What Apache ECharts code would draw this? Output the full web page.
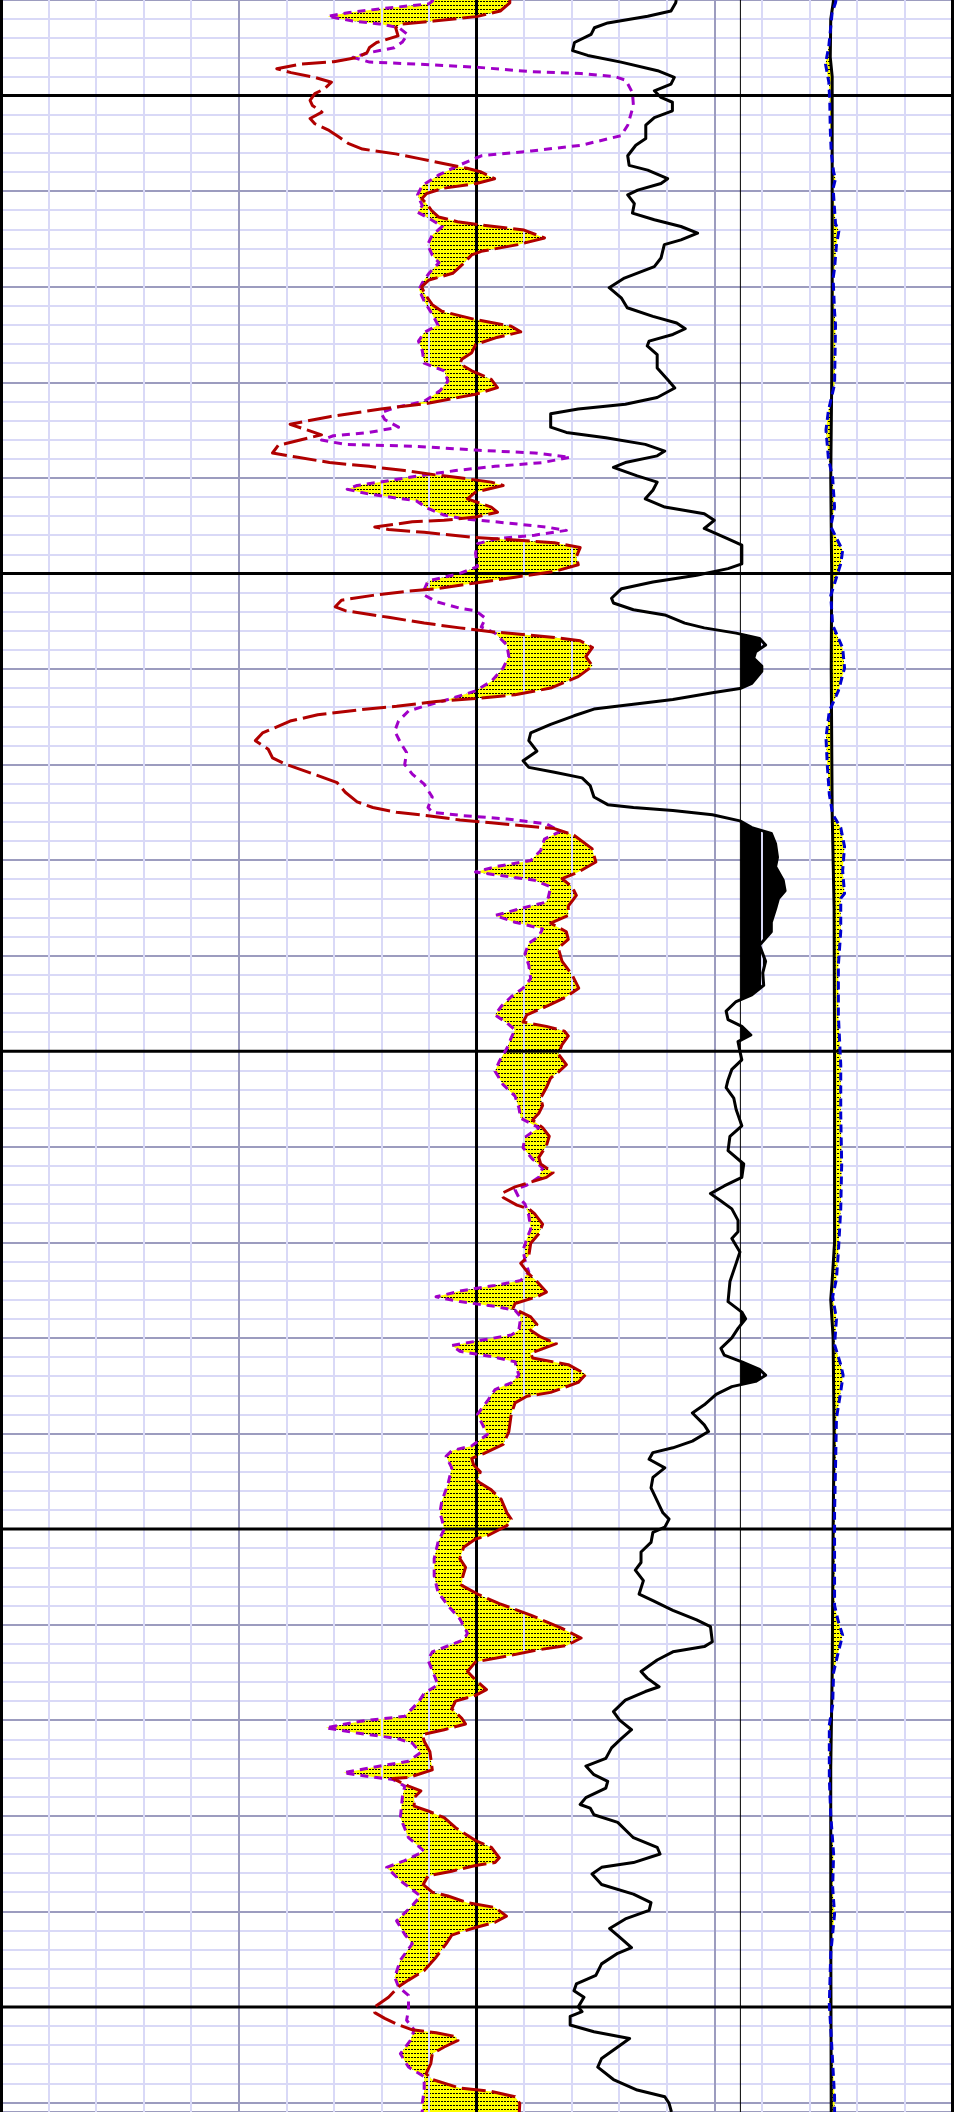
<!DOCTYPE html>
<html>
<head>
<meta charset="utf-8">
<script src="https://cdn.jsdelivr.net/npm/echarts@6/dist/echarts.min.js"></script>
<style>
html,body{margin:0;padding:0;background:#fff;}
#chart{width:964px;height:2112px;}
</style>
</head>
<body>
<div id="chart"></div>
<script>
// ---- depth range (ft) and track scale (0..200 across both tracks, 10 units per division)
const DEPTH_MIN = 990, DEPTH_MAX = 1211;
const MAJOR_DEPTHS = [1000, 1050, 1100, 1150, 1200];
const CUTOFF = 155.5;

// ---- left track curves: [depth, value]
const RED = [[990,107],[990.3,107],[991.15,105],[991.74,100],[992.2,91],[992.54,84],[992.9,83],[993.75,83.5],[994.45,79],[994.97,77.5],[995.49,77],[996.0,75],[996.46,70],[996.7,63],[997.2,58],[997.6,61],[998.1,66],[998.6,69.5],[999.3,68],[999.8,66],[1000.5,65],[1001.04,65.5],[1001.74,67.5],[1002.4,65],[1002.95,66],[1003.65,69],[1004.3,71],[1005.0,73],[1005.6,76],[1006.1,83],[1006.6,88],[1007.1,93],[1007.6,98],[1008.0,101],[1008.7,103.8],[1009.2,100],[1009.7,93],[1010.25,89.5],[1010.8,88.5],[1011.3,89.5],[1012.0,90.5],[1012.7,92],[1013.2,96],[1013.55,101],[1014.07,110],[1014.9,114.3],[1015.6,108.7],[1016.3,101],[1016.67,99],[1017.7,97],[1018.6,95],[1019.3,90],[1020.0,88.5],[1020.66,89],[1021.88,90.7],[1022.57,92.7],[1023.44,99.8],[1024.13,107.3],[1024.73,109.3],[1025.35,104],[1026.05,99.8],[1026.9,99],[1027.6,96.9],[1028.06,96.5],[1028.8,99],[1029.7,103.1],[1030.56,104.4],[1031.25,99.8],[1032.2,89.8],[1032.8,79.9],[1033.6,69.1],[1034.4,60.8],[1035.5,67.4],[1036.6,58.3],[1037.4,57.1],[1037.85,62.4],[1038.4,69.1],[1038.8,77.4],[1039.24,84.9],[1039.7,91.5],[1040.0,96.5],[1040.45,103.1],[1040.8,105.6],[1041.5,99.8],[1042.2,98.1],[1043.06,103.1],[1043.6,104.4],[1044.1,99.8],[1044.45,93.2],[1044.6,86.5],[1045.15,78.6],[1045.4,81.5],[1045.7,89],[1046.25,99.8],[1046.5,108.1],[1046.8,116.4],[1047.3,121.8],[1048.27,121],[1049.1,121.4],[1049.8,116.4],[1050.4,108.1],[1051.0,99.8],[1051.6,91.5],[1051.9,84.9],[1052.3,78.2],[1052.8,71.6],[1053.5,70.3],[1053.9,72.4],[1054.6,81.5],[1055.2,89],[1055.7,96.5],[1056.1,103.1],[1056.4,109.8],[1056.7,116.4],[1057.05,121.8],[1057.75,124.4],[1058.7,123],[1059.7,124.4],[1060.8,121.4],[1062.0,115.6],[1062.7,108.1],[1063.1,99.8],[1063.4,91.5],[1063.9,83.2],[1064.3,74.9],[1064.8,66.6],[1065.45,60.8],[1066.7,55],[1067.5,53.5],[1068.4,56.2],[1069.3,57.1],[1070.0,60],[1071.0,65.8],[1071.9,70.7],[1072.9,72.4],[1073.9,74.9],[1074.5,78.2],[1075.0,83.2],[1075.35,89.8],[1075.8,96.5],[1076.1,103.1],[1076.4,109.8],[1076.7,116.4],[1077.4,120.5],[1078.8,124.3],[1080.2,125.1],[1081.25,121.4],[1081.95,118],[1082.8,120.1],[1083.7,121],[1084.03,120.5],[1084.8,119.3],[1085.8,119.3],[1086.6,115.6],[1087.5,118.9],[1088.3,119.3],[1089.2,117.2],[1090.6,118],[1092.0,120.1],[1093.4,121.5],[1094.3,118.9],[1095.1,115.6],[1096.2,110.6],[1096.95,109.8],[1097.4,114.7],[1097.9,118.5],[1098.4,119.3],[1099.3,118],[1100.3,117.2],[1101.4,118.9],[1102.2,117.2],[1102.8,115.6],[1103.8,114.7],[1104.9,113.5],[1105.7,113.9],[1106.5,113.1],[1107.2,111.8],[1108.0,113.9],[1108.9,115.3],[1109.9,114.7],[1111.1,113.1],[1111.8,113.5],[1112.7,116.1],[1113.2,114.7],[1113.7,111.4],[1114.2,108.1],[1114.9,105.2],[1115.3,105.6],[1116.1,108.5],[1116.5,111],[1117.0,112.2],[1118.1,113.9],[1119.1,113.1],[1120.1,111.4],[1121.4,111],[1122.2,109.3],[1123.3,111],[1124.1,112.7],[1125.2,114.7],[1125.7,112.7],[1126.4,108.1],[1126.9,107.7],[1127.8,111.4],[1128.6,112.7],[1129.2,111.4],[1129.9,113.5],[1130.6,116.8],[1131.6,111.4],[1132.1,111.8],[1132.8,119.3],[1133.8,123],[1134.65,121.4],[1135.7,115.6],[1136.1,110.6],[1136.8,108.1],[1138.0,107.3],[1139.8,106.8],[1141.15,105.6],[1142.1,101.5],[1142.6,99],[1143.3,99.4],[1144.0,100.8],[1145.0,100.2],[1145.9,103.1],[1146.9,105.2],[1148.3,106.4],[1148.96,107.3],[1149.65,106.4],[1150.7,102.3],[1151.04,99.8],[1151.9,97.3],[1153.1,96.5],[1154.0,97.7],[1155.0,97.1],[1155.9,96.9],[1156.9,100.6],[1157.8,104.8],[1159.0,111.4],[1160.4,118],[1161.4,122],[1162.2,118.9],[1162.7,112.2],[1163.3,106.4],[1163.9,99.8],[1164.9,98.1],[1165.8,99.8],[1166.8,102.1],[1167.4,99.8],[1168.0,95.6],[1168.8,94.8],[1169.8,96.9],[1170.4,97.7],[1171.0,93.2],[1171.5,88.6],[1172.2,89],[1173.3,90.2],[1175.2,90.7],[1176.0,85.7],[1176.1,82.4],[1176.9,85.7],[1177.4,88.3],[1178.1,86.9],[1179.0,86.9],[1179.5,89.8],[1180.2,93.2],[1181.25,95.6],[1182.6,99.8],[1183.3,103.1],[1184.4,104.8],[1184.9,103.9],[1185.2,99.8],[1185.8,94.8],[1186.3,89.8],[1187.2,88.8],[1188.0,90.7],[1188.4,94],[1189.1,98.1],[1189.6,103.9],[1190.5,106.3],[1191.15,103.9],[1191.7,99.8],[1192.2,96.5],[1192.5,94.8],[1193.4,93.6],[1194.8,91.5],[1196.2,89],[1197.2,85.7],[1197.9,83.6],[1199.0,81.5],[1200.0,78.6],[1200.6,78.6],[1201.2,80.7],[1201.8,83.2],[1202.4,86.5],[1202.7,91.5],[1203.1,95.6],[1203.5,96.1],[1204.2,93.2],[1204.9,90.7],[1205.9,90.4],[1207.0,89.4],[1207.6,90.7],[1208.5,96.5],[1208.85,103.1],[1209.4,108.1],[1210.1,109.1],[1211,109]];

const PURPLE = [[990,91],[990.4,90],[990.9,80.2],[991.3,73.3],[991.7,68.7],[992.2,74],[992.5,79.6],[992.9,83.7],[993.6,85.5],[994.4,84.4],[995.0,82.7],[995.5,77.5],[996.0,74],[996.5,77.5],[996.7,87.2],[997.05,100.5],[997.5,111.5],[997.7,122],[998.0,129],[998.4,131.4],[999.7,132.8],[1001.04,133],[1003.1,131.8],[1004.2,130.4],[1005.2,122],[1005.8,111.5],[1006.3,101],[1007.3,96.3],[1008.3,92.1],[1009.4,88.6],[1010.4,87.6],[1011.5,88.6],[1012.2,87.6],[1012.85,90],[1013.7,92.8],[1014.6,90.7],[1015.6,89.7],[1016.7,90.7],[1017.5,92.1],[1018.6,90],[1019.6,88.6],[1020.3,87.9],[1021.5,89],[1022.9,90.7],[1024.0,91.9],[1024.8,89],[1025.7,87.8],[1026.7,88.6],[1028.0,89],[1028.8,93.2],[1029.9,94],[1030.9,92.3],[1032.0,89],[1032.6,83.2],[1033.2,79.9],[1033.9,80.7],[1034.7,83.6],[1035.25,77.4],[1035.6,69.9],[1036.05,67.4],[1036.5,72.4],[1036.7,87.3],[1037.1,99.8],[1037.4,112.2],[1037.85,119.7],[1038.4,113.9],[1038.8,103.9],[1039.24,95.6],[1039.65,89.8],[1040.3,81.5],[1040.8,74.9],[1041.2,72.8],[1041.7,77.4],[1042.4,87.3],[1043.2,89.8],[1043.9,93.2],[1044.3,97.3],[1044.6,103.9],[1045.15,114.7],[1045.5,118.9],[1046.0,112.2],[1046.4,103.9],[1046.9,100.2],[1047.9,99.8],[1049.3,100.2],[1050.0,96.5],[1050.8,89.8],[1051.7,89],[1052.26,89],[1052.95,91.5],[1053.65,96.5],[1053.9,99.8],[1054.7,101.9],[1055.6,101],[1056.25,103.9],[1057.5,106.4],[1058.7,106.8],[1059.9,105.6],[1061.3,103.1],[1062.3,99.8],[1063.2,94],[1063.9,89],[1064.4,85.7],[1065.45,83.6],[1066.5,82.8],[1067.7,84],[1068.75,85.3],[1070.0,84.9],[1071.0,86.5],[1072.05,89],[1073.4,90.7],[1074.5,89.8],[1075.0,90.7],[1075.35,97.3],[1075.7,106.4],[1076.2,114.7],[1077.0,117.6],[1077.8,114.3],[1079.0,113.5],[1080.05,111.4],[1080.7,103.9],[1081.25,99.8],[1081.6,104.8],[1082.1,112.2],[1082.8,115.6],[1083.9,115.1],[1084.4,114.7],[1084.9,110.6],[1085.8,103.9],[1086.5,108.1],[1087.2,113.9],[1088.0,113.1],[1088.7,111],[1089.8,110.2],[1091.0,111],[1092.4,111.4],[1093.4,109.8],[1094.3,107.3],[1095.3,105.2],[1096.2,103.9],[1097.05,106.4],[1097.75,108.1],[1098.6,107.3],[1099.7,106.4],[1101.05,104.8],[1102.1,103.9],[1103.5,105.6],[1104.7,108.1],[1105.9,108.9],[1107.0,109.3],[1108.0,113.1],[1109.0,110.2],[1110.1,109.8],[1111.3,111.8],[1112.2,113.9],[1113.2,113.1],[1114.0,110.6],[1114.5,108.1],[1115.3,108.9],[1116.0,110.2],[1117.2,111],[1118.6,111.4],[1119.6,110.6],[1120.8,109.8],[1121.9,110.2],[1123.1,111],[1124.0,109.3],[1124.5,103.9],[1125.1,96.5],[1125.7,91.5],[1126.2,96.5],[1126.7,103.9],[1127.1,108.1],[1127.8,109.3],[1129.2,108.9],[1129.7,107.3],[1130.2,101.5],[1130.8,94.8],[1131.4,96.5],[1131.95,103.1],[1132.5,108.1],[1133.9,108.9],[1134.7,107.3],[1135.4,103.9],[1136.6,102.3],[1138.0,100.2],[1140.1,102.3],[1141.3,99],[1141.8,94.8],[1142.4,93.6],[1143.6,94.8],[1145.3,94],[1147.1,92.7],[1148.3,92.3],[1148.96,92.7],[1150.0,93.2],[1151.4,91.9],[1153.1,91.1],[1154.9,91.1],[1156.6,91.9],[1158.0,94],[1159.4,96.5],[1160.9,98.1],[1161.6,97.3],[1162.85,90.7],[1163.7,89.8],[1165.3,91.1],[1166.3,91.9],[1167.2,89],[1168.1,87.8],[1169.6,84.9],[1170.1,75.7],[1170.8,68.3],[1171.35,74.9],[1171.9,83.2],[1172.4,86.5],[1173.4,88.2],[1174.3,85.7],[1175.0,77.4],[1175.5,72],[1175.9,77.4],[1176.2,82.4],[1176.9,84.9],[1178.1,84.4],[1180.2,84],[1182.3,85.7],[1183.7,89],[1184.7,84.9],[1185.4,81.1],[1186.8,84],[1188.4,88.2],[1189.4,86.5],[1191.0,83.2],[1192.4,84.9],[1193.4,86.5],[1195.1,84],[1196.9,82.8],[1197.9,83.6],[1198.8,85.7],[1200.3,85.7],[1201.4,85.3],[1202.4,86.9],[1203.5,86.1],[1204.9,84],[1206.3,85.7],[1207.3,89],[1208.7,89],[1210.1,88.6],[1211,88.6]];

// ---- right track curves
const BLACK = [[990,142],[990.28,141.9],[991.15,140.9],[991.7,136],[992.4,127.6],[992.9,124.8],[993.6,124.1],[994.45,120.6],[995.3,120.2],[995.8,123.4],[996.5,130.4],[997.4,138.1],[998.1,141.6],[998.8,140.9],[999.5,137.4],[1000.2,138.8],[1000.7,141.2],[1001.6,141.2],[1002.3,137.4],[1003.1,135.6],[1004.5,135.6],[1005.2,133.5],[1006.3,131.8],[1007.3,132.1],[1007.8,136],[1008.7,140.2],[1009.2,138.8],[1009.9,133.9],[1010.4,131.8],[1011.3,133.2],[1012.3,132.8],[1013.0,137.4],[1013.7,143],[1014.4,146.5],[1015.1,143],[1015.6,139.5],[1017.0,138.8],[1017.9,137.4],[1019.1,131.1],[1020.1,127.9],[1021.2,130.5],[1022.2,131.7],[1023.1,137.1],[1023.8,142.1],[1024.4,143.9],[1025.0,141.3],[1025.7,136.3],[1026.2,135.9],[1027.1,138],[1028.5,138],[1029.9,140.5],[1030.6,141.7],[1031.6,138],[1032.3,131.3],[1032.8,121.4],[1033.3,115.6],[1034.7,115.6],[1035.25,118.9],[1035.8,127.2],[1036.5,135.5],[1037.2,139.6],[1037.7,138],[1038.4,131.3],[1038.9,128.8],[1039.8,133.8],[1040.45,138],[1041.3,137.1],[1042.2,135.5],[1043.06,139.6],[1043.75,147.9],[1044.45,150],[1045.3,147.9],[1046.4,152.9],[1047.05,155.8],[1049.0,155.8],[1049.5,152.9],[1050.2,146.3],[1050.9,137.1],[1051.6,130.5],[1052.6,128.4],[1053.1,128.8],[1053.8,133],[1054.35,139.6],[1055.2,143.8],[1055.7,147.9],[1056.25,154.6],[1056.8,159.5],[1057.5,160.8],[1058.2,158.7],[1058.9,158.3],[1059.7,160],[1060.25,160],[1061.5,157.9],[1062.05,155.4],[1062.5,149.6],[1063.2,141.3],[1063.7,133],[1064.2,124.7],[1064.9,120.5],[1065.8,115.6],[1066.7,111.4],[1067.5,111],[1068.6,112.7],[1069.6,109.8],[1070.3,111],[1070.8,116.4],[1071.4,122.2],[1072.2,123.9],[1073.4,124.7],[1074.2,127.6],[1074.5,133],[1074.8,141.3],[1075.25,149.6],[1075.9,155.4],[1076.6,157.9],[1077.2,162],[1078.3,162.9],[1079.7,163.3],[1080.7,162.9],[1082.1,164.5],[1083.2,164.9],[1084.03,163.5],[1085.1,162.9],[1086.5,162],[1087.5,162],[1088.9,159.5],[1090.6,160.8],[1091.8,160.2],[1093.1,160.4],[1094.1,157.9],[1094.8,154.6],[1095.8,152.5],[1096.7,152.9],[1097.4,155.8],[1098.3,157.7],[1099.0,155],[1100.0,155.4],[1100.9,155.8],[1101.9,153.7],[1103.0,152.9],[1103.8,152.5],[1104.9,154.1],[1106.1,154.6],[1107.8,155.8],[1108.9,153.3],[1110.4,152.9],[1111.8,156.2],[1113.2,155.8],[1114.1,152.1],[1114.9,149.2],[1115.6,151.2],[1116.5,153.7],[1117.7,155],[1118.9,155],[1119.6,153.7],[1121.0,155.4],[1122.2,154.6],[1124.1,153.3],[1126.2,152.9],[1127.3,155.8],[1128.0,156.6],[1129.0,155],[1130.0,153.7],[1131.1,151.4],[1131.8,152.1],[1132.5,155.8],[1133.3,159.5],[1133.9,160.8],[1134.55,158.7],[1135.1,153.7],[1135.9,150.4],[1137.0,147.9],[1137.85,145.4],[1139.1,147.9],[1139.8,148.8],[1140.8,145.4],[1141.5,141.3],[1142.0,137.1],[1142.7,136.3],[1143.6,139.6],[1144.6,137.1],[1145.7,136.7],[1147.05,138],[1148.3,139.2],[1148.96,140.5],[1149.8,139.6],[1150.35,137.1],[1151.4,136.7],[1152.4,134.6],[1153.5,134.6],[1154.3,133.4],[1155.4,135.1],[1156.8,134.2],[1157.5,137.1],[1158.5,141.3],[1159.5,146.3],[1160.2,149.2],[1161.8,149.6],[1162.3,147.9],[1162.85,141.3],[1163.7,138],[1164.9,134.6],[1165.6,135.9],[1166.5,138.4],[1167.0,135.5],[1167.9,131.3],[1169.1,128.8],[1170.0,130.1],[1171.0,132.6],[1171.9,130.5],[1172.9,128.4],[1174.0,127.2],[1174.8,123],[1175.7,124.7],[1176.4,127.6],[1177.1,127.2],[1178.1,123],[1178.82,121.8],[1179.2,123.9],[1179.9,124.7],[1180.7,129.7],[1182.3,133],[1183.3,138],[1184.0,138.6],[1184.9,133],[1185.4,126.3],[1186.1,124.3],[1187.2,126.3],[1188.2,133],[1189.1,136.7],[1189.9,136.3],[1190.8,131.3],[1191.8,128],[1192.7,130.1],[1193.8,132.6],[1194.4,129.7],[1195.5,126.3],[1196.7,125.1],[1197.6,121],[1198.3,120.5],[1199.0,122.6],[1200.0,121.4],[1200.5,122.2],[1201.0,119.7],[1201.9,119.7],[1202.6,124.7],[1203.3,132.2],[1204.2,129.7],[1205.4,126.3],[1206.3,125.5],[1207.6,128.8],[1208.7,133.8],[1209.4,139.6],[1210.1,140.5],[1211,141]];

const RBLACK = [[990,175.1],[992,174.5],[996,174.4],[998,174.8],[1020,174.8],[1030,174.7],[1040,174.5],[1050,174.7],[1060,174.6],[1075,174.8],[1085,175.2],[1100,175.3],[1120,175.3],[1124,174.8],[1126,174.5],[1130,175],[1140,175.2],[1150,175],[1165,174.8],[1175,174.5],[1190,174.5],[1211,174.6]];

const BLUE = [[990,175.6],[990.28,175.5],[991.3,174.8],[994.8,174.1],[996.7,173.4],[998.6,174.1],[1000.7,174.3],[1003.5,174.4],[1005.9,174.6],[1008.0,175.1],[1008.7,175.5],[1009.7,175],[1013.4,175.5],[1014.2,176.2],[1015.6,175.7],[1018.1,175.3],[1019.1,175],[1022.6,175.3],[1024,175.5],[1030.2,175.3],[1033,174],[1035,173.5],[1037.9,174],[1040,174.9],[1043.1,175.3],[1045.1,174.5],[1047.6,177],[1049,176.6],[1051.05,175.3],[1052.3,174.5],[1055.4,174.9],[1057.8,177],[1059.9,177.4],[1062.3,176.1],[1064.4,174.2],[1067.2,173.5],[1070.3,173.8],[1073.1,174.2],[1075.2,174.9],[1076.6,176.6],[1078.6,177.4],[1081.1,177],[1083.5,177.4],[1084,176.6],[1087.5,176.6],[1091,176.1],[1096.2,176.1],[1101.4,176.6],[1106.6,176.6],[1111.8,176.8],[1116.5,176.6],[1121,176.1],[1123.8,175.7],[1125.7,174.9],[1128,175.7],[1130.7,175.3],[1132.8,176.6],[1133.9,177.1],[1135.6,176.6],[1138.4,175.7],[1143.6,175.5],[1148.3,175.3],[1151,175.3],[1158,175.3],[1159.7,176.1],[1161.1,177],[1162.85,176.1],[1165,175.1],[1168.4,174.9],[1170.5,174.2],[1176,174.2],[1179.9,174.5],[1184,175.1],[1187.5,174.9],[1190.3,175.3],[1194.4,174.5],[1199.7,174.2],[1203.1,174.6],[1209.4,175.3],[1211,175.3]];

// ---------- helpers (rendering only) ----------
function makePattern(){
  const c = document.createElement('canvas'); c.width = 3; c.height = 4;
  const ctx = c.getContext('2d');
  ctx.fillStyle = '#ffff00'; ctx.fillRect(0,0,3,4);
  ctx.fillStyle = '#000000'; ctx.fillRect(0,1,2,1);
  return c;
}
const DOTS = {image: makePattern(), repeat: 'repeat'};

function interp(arr, d){
  if (d <= arr[0][0]) return arr[0][1];
  const n = arr.length;
  if (d >= arr[n-1][0]) return arr[n-1][1];
  let lo = 0, hi = n-1;
  while (hi - lo > 1){ const m = (lo+hi)>>1; if (arr[m][0] <= d) lo = m; else hi = m; }
  const d0 = arr[lo][0], v0 = arr[lo][1], d1 = arr[hi][0], v1 = arr[hi][1];
  return d1 === d0 ? v0 : v0 + (v1-v0)*(d-d0)/(d1-d0);
}
function depthsOf(A, B){
  const s = new Set(); A.forEach(p=>s.add(p[0])); B.forEach(p=>s.add(p[0]));
  return Array.from(s).sort((a,b)=>a-b);
}
// runs where A > B : list of [depth, a, b]
function runsGreater(A, B){
  const ds = depthsOf(A, B);
  const runs = []; let cur = null; let prev = null;
  for (const d of ds){
    const a = interp(A,d), b = interp(B,d), diff = a-b;
    if (prev && ((prev.diff > 0) !== (diff > 0))){
      const t = prev.diff/(prev.diff-diff);
      const dc = prev.d + (d-prev.d)*t, vc = prev.a + (a-prev.a)*t;
      if (cur){ cur.push([dc,vc,vc]); runs.push(cur); cur = null; }
      else cur = [[dc,vc,vc]];
    }
    if (diff > 0){ if (!cur) cur = []; cur.push([d,a,b]); }
    prev = {d, a, diff};
  }
  if (cur) runs.push(cur);
  return runs;
}
function polyFromRun(run, api){
  const pts = run.map(p=>api.coord([p[1], p[0]]));
  for (let i = run.length-1; i >= 0; i--) pts.push(api.coord([run[i][2], run[i][0]]));
  return pts;
}
function fillSeries(runsFn, fill, stroke){
  return {
    type: 'custom', coordinateSystem: 'cartesian2d', xAxisIndex: 0, yAxisIndex: 0,
    z: 1, silent: true, clip: true, data: [[0, DEPTH_MIN]], encode: {x:0, y:1},
    renderItem: function(params, api){
      const runs = runsFn();
      return {type: 'group', children: runs.map(r => ({
        type: 'polygon', shape: {points: polyFromRun(r, api)},
        style: {fill: fill, stroke: stroke || null, lineWidth: 0}
      }))};
    }
  };
}
function lineSeries(arr, color, width, dash, z){
  return {
    type: 'line', xAxisIndex: 0, yAxisIndex: 0, z: z || 4, silent: true,
    symbol: 'none', showSymbol: false, smooth: false, animation: false,
    data: arr.map(p=>[p[1], p[0]]),
    lineStyle: {color: color, width: width, type: dash || 'solid', cap: 'butt', join: 'round'}
  };
}
const hideAxisParts = {axisLine:{show:false}, axisTick:{show:false}, axisLabel:{show:false}};

const chart = echarts.init(document.getElementById('chart'), null, {renderer: 'canvas'});
const CUT = [[DEPTH_MIN, CUTOFF], [DEPTH_MAX, CUTOFF]];

chart.setOption({
  animation: false,
  backgroundColor: '#ffffff',
  grid: {left: 1, width: 951, top: -2.7, height: 2121.6, containLabel: false, show: false},
  xAxis: [
    Object.assign({type:'value', min:0, max:200, interval:50, z:2,
      splitLine:{show:true, lineStyle:{color:'#9c9cbf', width:2}},
      minorTick:{show:false, splitNumber:5},
      minorSplitLine:{show:true, lineStyle:{color:'#d9d9f7', width:2}}}, hideAxisParts),
    Object.assign({type:'value', min:0, max:200, interval:100, z:3,
      splitLine:{show:true, lineStyle:{color:'#000000', width:3}}}, hideAxisParts)
  ],
  yAxis: [
    Object.assign({type:'value', inverse:true, min:DEPTH_MIN, max:DEPTH_MAX, interval:10, z:0,
      splitLine:{show:true, lineStyle:{color:'#9c9cbf', width:2}},
      minorTick:{show:false, splitNumber:5},
      minorSplitLine:{show:true, lineStyle:{color:'#d9d9f7', width:2}}}, hideAxisParts)
  ],
  series: [
    // yellow dotted crossover fill (red right of purple)
    fillSeries(()=>runsGreater(RED, PURPLE), DOTS),
    // black fill where black curve exceeds cutoff
    fillSeries(()=>runsGreater(BLACK, CUT), '#000000'),
    // right track fill (both sides)
    fillSeries(()=>runsGreater(BLUE, RBLACK).concat(runsGreater(RBLACK, BLUE)), DOTS),
    // major depth lines
    {
      type: 'custom', coordinateSystem: 'cartesian2d', z: 3, silent: true, clip: true,
      data: MAJOR_DEPTHS.map(d=>[0, d]), encode: {x:0, y:1},
      renderItem: function(params, api){
        const d = api.value(1);
        const p0 = api.coord([0, d]), p1 = api.coord([200, d]);
        return {type:'line', shape:{x1:p0[0], y1:p0[1], x2:p1[0], y2:p1[1]},
                style:{stroke:'#000000', lineWidth:3}};
      }
    },
    lineSeries(CUT, '#000000', 1, 'solid', 3),
    lineSeries(RBLACK, '#000000', 3, 'solid', 4),
    lineSeries(BLUE, '#0000d0', 3, [8,5], 5),
    lineSeries(BLACK, '#000000', 3, 'solid', 4),
    lineSeries(PURPLE, '#a000c8', 3, [8,6], 5),
    lineSeries(RED, '#b00000', 3, [24,6], 6)
  ]
});
</script>
</body>
</html>
